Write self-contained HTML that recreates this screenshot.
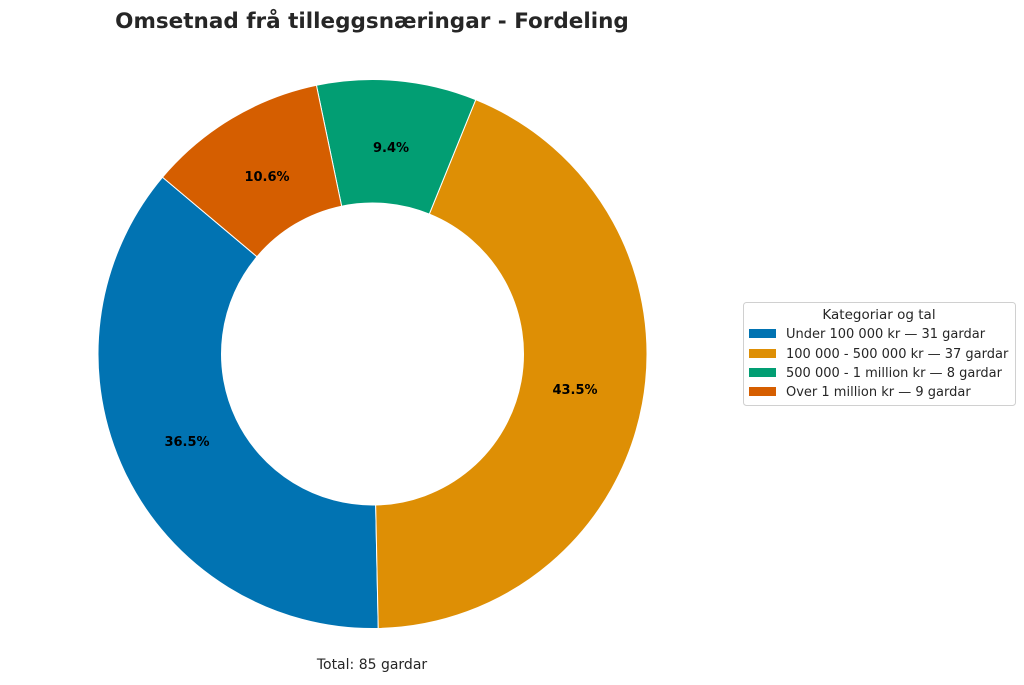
<!DOCTYPE html>
<html><head><meta charset="utf-8"><style>
body{margin:0;background:#fff;font-family:"DejaVu Sans","Liberation Sans",sans-serif;}
</style></head><body>
<svg id="s" width="1024" height="681" xmlns="http://www.w3.org/2000/svg" font-family="DejaVu Sans, Liberation Sans, sans-serif">
<rect width="1024" height="681" fill="#fff"/>
<text x="372" y="28" text-anchor="middle" font-size="21.5" font-weight="bold" fill="#262626">Omsetnad frå tilleggsnæringar - Fordeling</text>
<g id="pie"></g>
<g font-size="13" font-weight="bold" fill="#000" text-anchor="middle">
<text x="187" y="446">36.5%</text>
<text x="575" y="394">43.5%</text>
<text x="391" y="152">9.4%</text>
<text x="267" y="181">10.6%</text>
</g>
<text x="372" y="669" text-anchor="middle" font-size="14" fill="#262626">Total: 85 gardar</text>
<rect x="743.5" y="302.5" width="272" height="103" rx="3" fill="#fff" stroke="#d0d0d0"/>
<text x="879" y="319" text-anchor="middle" font-size="13.5" fill="#262626">Kategoriar og tal</text>
<g font-size="13" fill="#262626">
<rect x="749" y="329" width="27" height="9" fill="#0173b2"/><text x="786" y="338">Under 100 000 kr — 31 gardar</text>
<rect x="749" y="349" width="27" height="9" fill="#de8f05"/><text x="786" y="358">100 000 - 500 000 kr — 37 gardar</text>
<rect x="749" y="368" width="27" height="9" fill="#029e73"/><text x="786" y="377">500 000 - 1 million kr — 8 gardar</text>
<rect x="749" y="387" width="27" height="9" fill="#d55e00"/><text x="786" y="396">Over 1 million kr — 9 gardar</text>
</g>
</svg>
<script>
var cx=372.5,cy=354,R=274.5,r=151;
var data=[[31,'#0173b2'],[37,'#de8f05'],[8,'#029e73'],[9,'#d55e00']];
var start=271.2-360*31/85,g=document.getElementById('pie'),h='';
function p(rad,ang){var t=ang*Math.PI/180;return (cx+rad*Math.cos(t)).toFixed(2)+' '+(cy-rad*Math.sin(t)).toFixed(2);}
for(var i=0;i<4;i++){var sw=360*data[i][0]/85,e=start+sw,l=sw>180?1:0;
h+='<path d="M'+p(R,start)+' A'+R+' '+R+' 0 '+l+' 0 '+p(R,e)+' L'+p(r,e)+' A'+r+' '+r+' 0 '+l+' 1 '+p(r,start)+' Z" fill="'+data[i][1]+'" stroke="#fff" stroke-width="1"/>';
start=e;}
g.innerHTML=h;
</script>
</body></html>
